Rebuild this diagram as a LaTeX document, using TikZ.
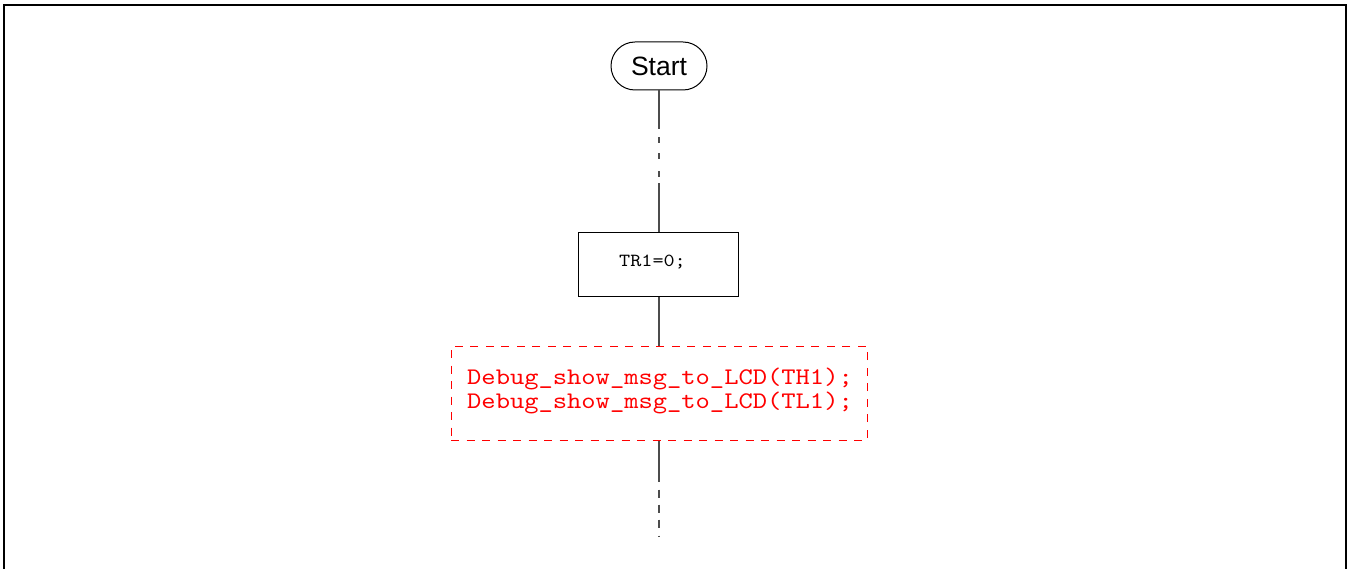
\documentclass[tikz,border=0pt]{standalone}
\usepackage{fontspec}
\newfontfamily\labelfont{Liberation Sans}
\newfontfamily\codefont[FakeStretch=1.143]{lmmono10-regular.otf}
\begin{document}
\begin{tikzpicture}[x=1pt,y=-1pt,
  frame/.style={draw=black,line width=2pt},
  conn/.style={draw=black!70,line width=1.1pt},
  terminal/.style={draw=black,line width=1pt,rounded corners=24pt,
    minimum width=96pt,minimum height=48pt,inner sep=0pt,
    font=\labelfont\fontsize{26.5}{30}\selectfont},
  stmtbox/.style={draw=black,line width=1pt,minimum width=160pt,
    minimum height=64pt,inner sep=0pt},
  stmttext/.style={inner sep=0pt,font=\codefont\fontsize{18.5}{20}\selectfont},
  debugbox/.style={draw=red,line width=1pt,dash pattern=on 8pt off 7.5pt,
    minimum width=416pt,minimum height=94pt,inner sep=0pt},
  debugtext/.style={inner sep=0pt,align=left,text=red,
    font=\codefont\fontsize{23.8}{24}\selectfont}]
\useasboundingbox (0,0) rectangle (1352,569);
\fill[white] (0,0) rectangle (1352,569);
% page frame, open at the bottom
\draw[frame] (4,580) -- (4,5) -- (1346,5) -- (1346,580);

% flow elements
\node[terminal] (start) at (659,66) {Start};
\node[stmtbox] (tr) at (658,265) {};
\node[stmttext,anchor=base west] (trtxt) at (619,267) {TR1=0;};
\node[debugbox] (dbg) at (659,393) {};
% the base anchor of a two-line node sits on its last line
\node[debugtext,anchor=base west] (dbgtxt) at (467,408)
  {Debug\_show\_msg\_to\_LCD(TH1);\\Debug\_show\_msg\_to\_LCD(TL1);};
\coordinate (cont) at (659,537);

% connectors
\draw[conn,dash pattern=on 39pt off 8pt on 6pt off 10pt on 6pt off 12pt on 6pt off 6pt on 80pt]
  (start.south) -- (start.south |- tr.north);
\draw[conn] (start.south |- tr.south) -- (start.south |- dbg.north);
\draw[conn,dash pattern=on 41pt off 8pt on 8pt off 7pt on 8pt off 7pt on 8pt off 8pt on 2pt off 20pt]
  (dbg.south) -- (cont);
\end{tikzpicture}
\end{document}
